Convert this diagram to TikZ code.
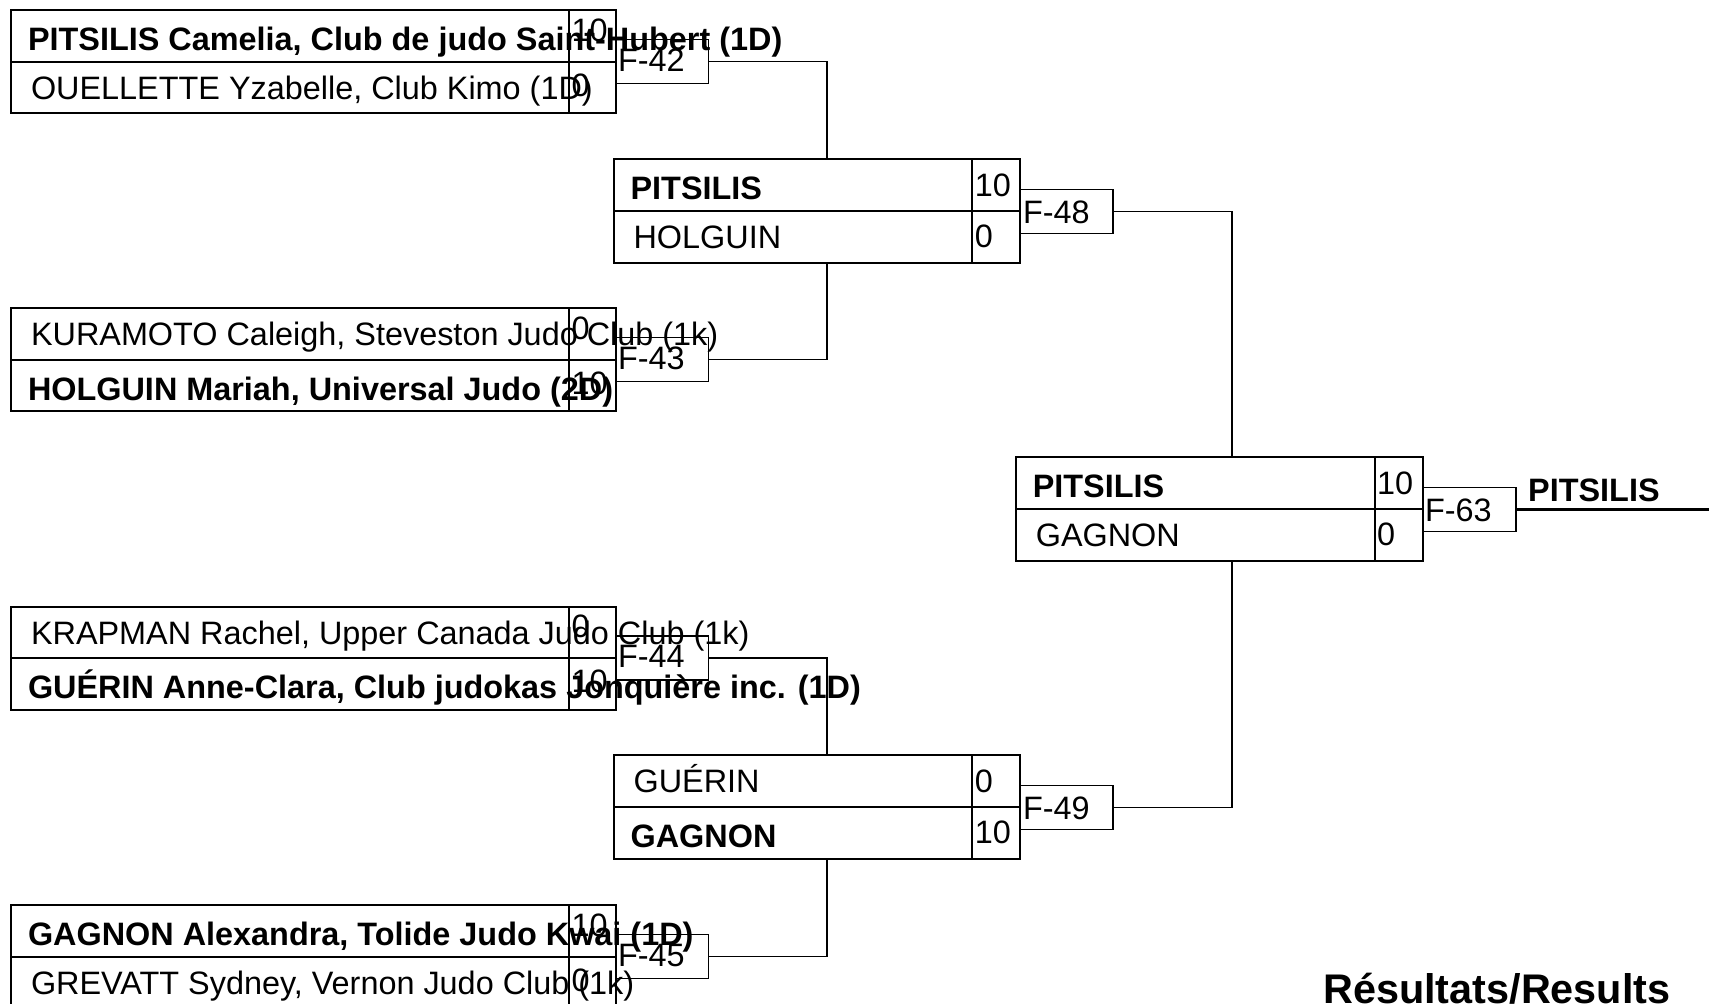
\documentclass[tikz,border=0pt]{standalone}
\usepackage{fontspec}
\setmainfont{Liberation Sans}
\newcommand{\regf}{\fontsize{32.4}{38}\selectfont}
\newcommand{\boldf}{\fontsize{32.4}{38}\selectfont\bfseries}
\tikzset{
  box/.style={draw, line width=2pt, rectangle, inner sep=0pt, outer sep=0pt, anchor=north west},
  fbx/.style={draw, line width=1.9pt, rectangle, inner sep=0pt, outer sep=0pt, anchor=west, minimum width=93, minimum height=44},
  conn/.style={line width=1.9pt},
  winline/.style={line width=2.6pt},
  nm/.style={anchor=base west, inner sep=0pt, outer sep=0pt, font=\regf},
  nmb/.style={anchor=base west, inner sep=0pt, outer sep=0pt, font=\boldf, xshift=-3pt, yshift=-3pt},
  sc/.style={anchor=base west, inner sep=0pt, outer sep=0pt, font=\regf},
  ft/.style={anchor=base west, inner sep=0pt, outer sep=0pt, font=\regf},
}
% first-round match: id, top, style1, name1, score1, style2, name2, score2
\newcommand{\RoundOne}[8]{%
  \node[box, minimum width=604.5, minimum height=51.5] (#1a) at (11,#2) {};
  \node[box, minimum width=604.5, minimum height=51.5] (#1b) at (11,#2+51.5) {};
  \node[box, minimum width=46.5, minimum height=103] (#1s) at (569,#2) {};
  \node[#3] (#1an) at (31,#2+37.5) {#4};
  \node[#6] (#1bn) at (31,#2+51.5+37.5) {#7};
  \node[sc] (#1as) at (571.5,#2+31) {#5};
  \node[sc] (#1bs) at (571.5,#2+51.5+34.5) {#8};
}
% later-round match: id, left, top, style1, name1, score1, style2, name2, score2
\newcommand{\LaterRound}[9]{%
  \node[box, minimum width=406.8, minimum height=52] (#1a) at (#2,#3) {};
  \node[box, minimum width=406.8, minimum height=52] (#1b) at (#2,#3+52) {};
  \node[box, minimum width=48, minimum height=104] (#1s) at (#2+358.8,#3) {};
  \node[#4] (#1an) at (#2+20,#3+37.5) {#5};
  \node[#7] (#1bn) at (#2+20,#3+52+37.5) {#8};
  \node[sc] (#1as) at (#2+361.3,#3+37.5) {#6};
  \node[sc] (#1bs) at (#2+361.3,#3+52+36.5) {#9};
}
\begin{document}
\begin{tikzpicture}[x=1pt,y=-1pt]
\useasboundingbox[fill=white] (0,0) rectangle (1709,1004);

% ---- first round ----
\RoundOne{A1}{10}{nmb}{PITSILIS Camelia, Club de judo Saint-Hubert (1D)}{10}{nm}{OUELLETTE Yzabelle, Club Kimo (1D)}{0}
\RoundOne{A2}{308}{nm}{KURAMOTO Caleigh, Steveston Judo Club (1k)}{0}{nmb}{HOLGUIN Mariah, Universal Judo (2D)}{10}
\RoundOne{A3}{606.5}{nm}{KRAPMAN Rachel, Upper Canada Judo Club (1k)}{0}{nmb}{GUÉRIN Anne-Clara, Club judokas Jonquière inc. (1D)}{10}
\RoundOne{A4}{905}{nmb}{GAGNON Alexandra, Tolide Judo Kwai (1D)}{10}{nm}{GREVATT Sydney, Vernon Judo Club (1k)}{0}

% ---- second round & final ----
\LaterRound{B1}{613.6}{158.5}{nmb}{PITSILIS}{10}{nm}{HOLGUIN}{0}
\LaterRound{B2}{613.6}{754.5}{nm}{GUÉRIN}{0}{nmb}{GAGNON}{10}
\LaterRound{C1}{1015.8}{456.7}{nmb}{PITSILIS}{10}{nm}{GAGNON}{0}

% ---- fight number boxes ----
\node[fbx] (F42) at (615.5,61.5) {};
\node[ft] (F42t) at (618,71) {F-42};
\node[fbx] (F43) at (615.5,359.5) {};
\node[ft] (F43t) at (618,369) {F-43};
\node[fbx] (F44) at (615.5,658) {};
\node[ft] (F44t) at (618,667.5) {F-44};
\node[fbx] (F45) at (615.5,956.5) {};
\node[ft] (F45t) at (618,966) {F-45};
\node[fbx] (F48) at (1020.4,211.5) {};
\node[ft] (F48t) at (1023,223.5) {F-48};
\node[fbx] (F49) at (1020.4,807.5) {};
\node[ft] (F49t) at (1023,819.5) {F-49};
\node[fbx] (F63) at (1422.6,509.5) {};
\node[ft] (F63t) at (1425,521.5) {F-63};

% ---- connectors ----
\coordinate (J1) at (827.2,158.5);
\coordinate (J2) at (827.2,262.5);
\coordinate (J3) at (1231.6,456.7);
\coordinate (J4) at (1231.6,560.7);
\coordinate (J5) at (827.2,754.5);
\coordinate (J6) at (827.2,858.5);
\coordinate (W) at (1712,509.5);
\draw[conn] (F42.east) -| (J1);
\draw[conn] (J2) |- (F43.east);
\draw[conn] (F44.east) -| (J5);
\draw[conn] (J6) |- (F45.east);
\draw[conn] (F48.east) -| (J3);
\draw[conn] (J4) |- (F49.east);
\draw[winline] (F63.east) -- (W);

% ---- winner and title ----
\node[anchor=base west, inner sep=0pt, font=\boldf] (win) at (1528,501.7) {PITSILIS};
\node[anchor=base west, inner sep=0pt, font=\fontsize{41.4}{48}\selectfont\bfseries] (res) at (1323,1003) {Résultats/Results};
\end{tikzpicture}
\end{document}
